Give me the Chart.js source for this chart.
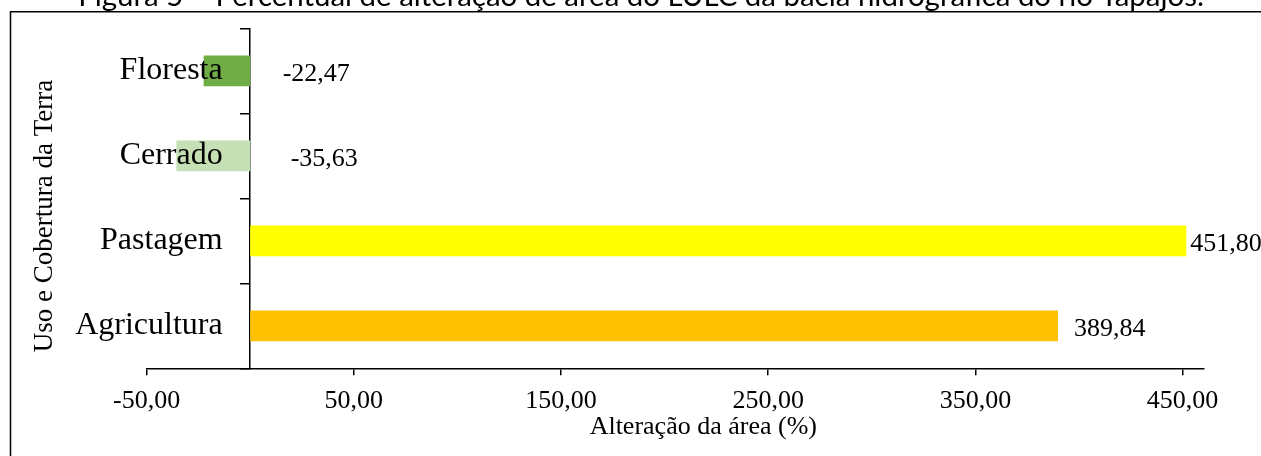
<!DOCTYPE html>
<html>
<head>
<meta charset="utf-8">
<script src="https://cdn.jsdelivr.net/npm/chart.js@4/dist/chart.umd.min.js"></script>
<style>
  html, body { margin: 0; padding: 0; background: #fff; overflow: hidden; }
  #wrap { position: relative; width: 1261px; height: 456px; }
  canvas { display: block; }
</style>
</head>
<body>
<div id="wrap"><canvas id="c" width="1261" height="456"></canvas></div>
<script>
// ---- data ----
const categories = ['Floresta', 'Cerrado', 'Pastagem', 'Agricultura'];
const changeValues = [-22.47, -35.63, 451.80, 389.84];
const valueLabels = ['-22,47', '-35,63', '451,80', '389,84'];
const xTickValues = [-50, 50, 150, 250, 350, 450];
const figureTitle = 'Figura 5 – Percentual de alteração de área do LULC da bacia hidrográfica do rio Tapajós.';
const xAxisTitle = 'Alteração da área (%)';
const yAxisTitle = 'Uso e Cobertura da Terra';

// ---- styles / layout ----
const barColors = ['#70AD47', '#C5E0B4', '#FFFF00', '#FFC000'];
const serif = "'Liberation Serif', 'Times New Roman', serif";
const labelDx = [32.5, 40.5, 4, 16];   // px shift of each value label from its anchor
const categoryGap = 27.5;              // px between y axis line and category label
const fmt = v => v.toFixed(2).replace('.', ',');

const decor = {
  id: 'decor',
  afterDatasetsDraw(chart) {
    const ctx = chart.ctx;
    const xs = chart.scales.x, ys = chart.scales.y;
    ctx.save();
    ctx.fillStyle = '#000';
    // category labels (drawn over the bars, as in the original)
    ctx.font = '32px ' + serif;
    ctx.textAlign = 'right';
    ctx.textBaseline = 'middle';
    const axisX = xs.getPixelForValue(0);
    categories.forEach((c, i) => {
      ctx.fillText(c, axisX - categoryGap, ys.getPixelForValue(i));
    });
    // value labels
    ctx.font = '26px ' + serif;
    ctx.textAlign = 'left';
    ctx.textBaseline = 'alphabetic';
    const meta = chart.getDatasetMeta(0);
    meta.data.forEach((bar, i) => {
      const v = changeValues[i];
      const anchor = v < 0 ? xs.getPixelForValue(0) : xs.getPixelForValue(v);
      ctx.fillText(valueLabels[i], anchor + labelDx[i], bar.y + 10.4);
    });
    ctx.restore();
  },
  afterDraw(chart) {
    const ctx = chart.ctx;
    ctx.save();
    ctx.fillStyle = '#000';
    ctx.font = '26px ' + serif;
    ctx.textBaseline = 'alphabetic';
    // x axis title
    ctx.textAlign = 'center';
    ctx.fillText(xAxisTitle, 703.3, 434);
    // y axis title
    ctx.save();
    ctx.translate(51.5, 216);
    ctx.rotate(-Math.PI / 2);
    ctx.font = '27px ' + serif;
    ctx.fillText(yAxisTitle, 0, 0);
    ctx.restore();
    // frame
    ctx.strokeStyle = '#000';
    ctx.lineWidth = 1.5;
    ctx.beginPath();
    ctx.moveTo(10.5, 460);
    ctx.lineTo(10.5, 11.8);
    ctx.lineTo(1265, 11.8);
    ctx.stroke();
    // figure title (cut at top)
    let size = 32;
    ctx.font = size + "px Lato, 'Open Sans', sans-serif";
    const w = ctx.measureText(figureTitle).width;
    size = size * 1126 / w;
    ctx.font = size.toFixed(2) + "px Lato, 'Open Sans', sans-serif";
    ctx.textAlign = 'center';
    ctx.fillText(figureTitle, 641, 6);
    ctx.restore();
  }
};

new Chart(document.getElementById('c'), {
  type: 'bar',
  data: {
    labels: categories,
    datasets: [{
      data: changeValues,
      backgroundColor: barColors,
      borderWidth: 0,
      barPercentage: 0.362,
      categoryPercentage: 1
    }]
  },
  options: {
    indexAxis: 'y',
    responsive: false,
    animation: false,
    layout: { padding: { left: 146.6, right: 57.7, top: 28.3, bottom: 0 } },
    plugins: { legend: { display: false }, tooltip: { enabled: false }, title: { display: false } },
    scales: {
      x: {
        type: 'linear',
        position: 'bottom',
        min: -50,
        max: 460,
        afterBuildTicks: s => { s.ticks = xTickValues.map(v => ({ value: v })); },
        afterFit: s => { s.height = 87.7; },
        ticks: {
          autoSkip: false,
          maxRotation: 0,
          color: '#000',
          font: { family: serif, size: 26 },
          padding: 10,
          callback: v => fmt(v)
        },
        grid: { display: true, drawOnChartArea: false, drawTicks: true, tickLength: 7, color: '#000', lineWidth: 1.5 },
        border: { display: true, color: '#000', width: 1.5 }
      },
      y: {
        type: 'category',
        position: { x: 0 },
        ticks: { display: false },
        grid: { display: true, offset: true, drawOnChartArea: false, drawTicks: true, tickLength: 9, color: '#000', lineWidth: 1.5 },
        border: { display: true, color: '#000', width: 1.5 }
      }
    }
  },
  plugins: [decor]
});
</script>
</body>
</html>
